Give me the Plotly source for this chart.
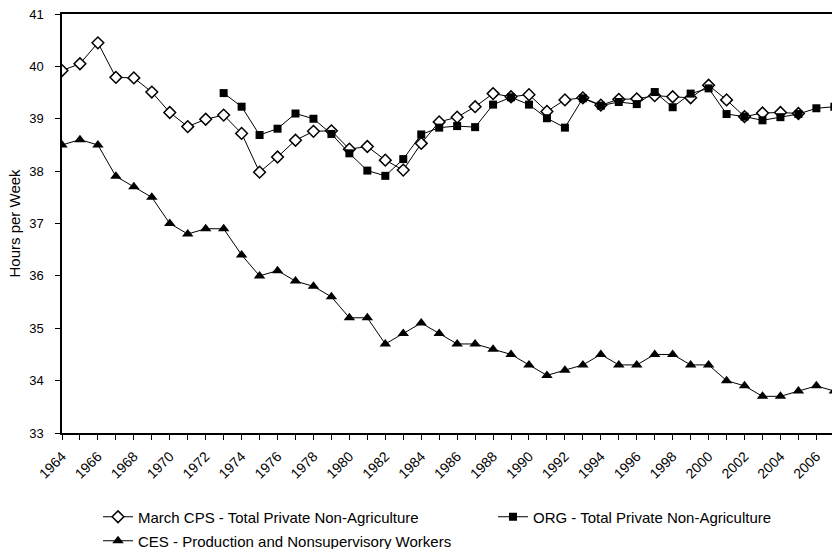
import plotly.graph_objects as go

march_cps_years = list(range(1964, 2006))
march_cps = [39.92, 40.05, 40.45, 39.79, 39.78, 39.51, 39.12, 38.85, 38.99, 39.07,
             38.72, 37.98, 38.27, 38.59, 38.76, 38.77, 38.42, 38.47, 38.21, 38.02,
             38.53, 38.94, 39.03, 39.23, 39.48, 39.42, 39.46, 39.14, 39.36, 39.40,
             39.26, 39.37, 39.38, 39.44, 39.42, 39.40, 39.64, 39.36, 39.04, 39.11,
             39.12, 39.10]

org_years = list(range(1973, 2008))
org = [39.49, 39.23, 38.69, 38.81, 39.10, 39.00, 38.71, 38.34, 38.01, 37.91,
       38.23, 38.70, 38.83, 38.86, 38.84, 39.27, 39.41, 39.27, 39.01, 38.83,
       39.39, 39.25, 39.32, 39.28, 39.51, 39.22, 39.48, 39.58, 39.09, 39.04,
       38.97, 39.03, 39.09, 39.20, 39.23]

ces_years = list(range(1964, 2008))
ces = [38.5, 38.6, 38.5, 37.9, 37.7, 37.5, 37.0, 36.8, 36.9, 36.9,
       36.4, 36.0, 36.1, 35.9, 35.8, 35.6, 35.2, 35.2, 34.7, 34.9,
       35.1, 34.9, 34.7, 34.7, 34.6, 34.5, 34.3, 34.1, 34.2, 34.3,
       34.5, 34.3, 34.3, 34.5, 34.5, 34.3, 34.3, 34.0, 33.9, 33.7,
       33.7, 33.8, 33.9, 33.8]

tick_years = list(range(1964, 2007, 2))
y_title = "Hours per Week"

font = "Liberation Sans, Arial, sans-serif"

W, H = 832, 549

fig = go.Figure()
fig.add_trace(go.Scatter(
    x=march_cps_years, y=march_cps, mode="lines+markers",
    name="March CPS - Total Private Non-Agriculture", legend="legend",
    line=dict(color="black", width=1),
    marker=dict(symbol="diamond", size=9, color="white",
                line=dict(color="black", width=1.5)),
))
fig.add_trace(go.Scatter(
    x=org_years, y=org, mode="lines+markers",
    name="ORG - Total Private Non-Agriculture", legend="legend2",
    line=dict(color="black", width=1),
    marker=dict(symbol="square", size=8, color="black"),
))
fig.add_trace(go.Scatter(
    x=ces_years, y=ces, mode="lines+markers",
    name="CES - Production and Nonsupervisory Workers", legend="legend3",
    line=dict(color="black", width=1),
    marker=dict(symbol="triangle-up", size=10, color="black"),
))

leg_common = dict(orientation="h", xref="container", yref="container",
                  xanchor="left", yanchor="middle", font=dict(size=15),
                  itemwidth=30, bgcolor="rgba(0,0,0,0)")

fig.update_layout(
    width=W, height=H,
    margin=dict(l=62, r=0, t=14, b=116),
    plot_bgcolor="white", paper_bgcolor="white",
    font=dict(family=font, size=13, color="black"),
    showlegend=True,
    legend=dict(x=98 / W, y=1 - 517 / H, **leg_common),
    legend2=dict(x=493 / W, y=1 - 517 / H, **leg_common),
    legend3=dict(x=98 / W, y=1 - 541 / H, **leg_common),
    xaxis=dict(
        range=[1964, 2006.87], automargin=False,
        tickmode="array", tickvals=tick_years, ticktext=[str(y) for y in tick_years],
        tickangle=-45, ticks="outside", ticklen=5, tickcolor="black",
        minor=dict(dtick=1, tick0=1964, ticks="outside", ticklen=5, tickcolor="black"),
        showgrid=False, zeroline=False,
        showline=True, linecolor="black", linewidth=1.5, mirror=True,
        tickfont=dict(size=14), ticklabelstandoff=3,
    ),
    yaxis=dict(
        range=[33, 41], dtick=1, tick0=33, automargin=False,
        ticks="outside", ticklen=5, tickcolor="black",
        showgrid=False, zeroline=False,
        showline=True, linecolor="black", linewidth=1.5,
        tickfont=dict(size=13), ticklabelstandoff=9,
    ),
    annotations=[dict(
        text=y_title, xref="paper", yref="paper", x=0, y=0.5,
        xanchor="center", yanchor="middle", xshift=-48, textangle=-90,
        showarrow=False, font=dict(size=15),
    )],
)

# drop the browser's default 8px page margin so the figure fills the window
fig.write_html("out.html", config={"displayModeBar": False},
               post_script="document.body.style.margin='0';")
